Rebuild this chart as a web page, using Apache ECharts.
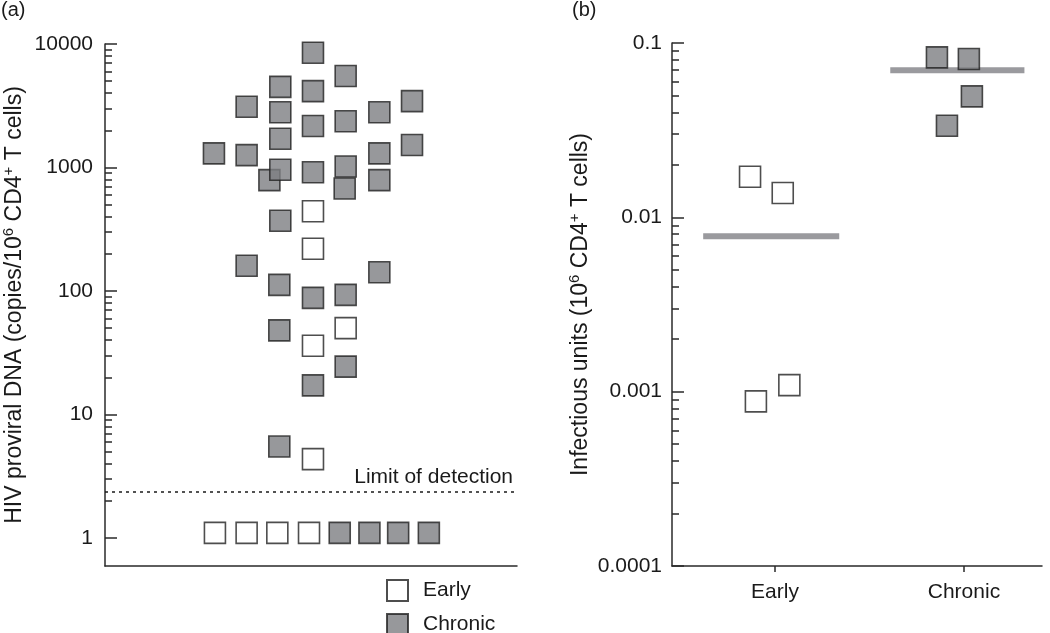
<!DOCTYPE html>
<html>
<head>
<meta charset="utf-8">
<script src="https://cdn.jsdelivr.net/npm/echarts@6/dist/echarts.min.js"></script>
<style>html,body{margin:0;padding:0;background:#fff;}#c{width:1050px;height:633px;}</style>
</head>
<body>
<div id="c"></div>
<script>
// ---------- Panel (a): HIV proviral DNA, strip positions [x, value] ----------
const earlyDNA = [[210, 442], [210, 220], [243, 50], [210, 36], [210, 4.35],
                  [111, 1.1], [143, 1.1], [174, 1.1], [206, 1.1]];
const chronicDNA = [[210, 8500], [243, 5500], [177, 4500], [210, 4150], [310, 3450],
                    [143, 3100], [177, 2800], [277, 2800], [243, 2370], [210, 2170],
                    [177, 1710], [310, 1520], [110, 1300], [143, 1260], [277, 1300],
                    [243, 1020], [166, 790], [177, 960], [210, 915], [277, 790],
                    [242, 675], [177, 370], [143, 160], [277, 142], [176, 112],
                    [210, 88], [243, 93], [176, 48], [243, 24.4], [210, 17.2],
                    [176, 5.5], [237, 1.1], [267, 1.1], [296, 1.1], [327, 1.1]];
const detectionLimit = 2.37;
const dnaTicks = [1, 10, 100, 1000, 10000];

// ---------- Panel (b): infectious units ----------
const groups = ['Early', 'Chronic'];
const earlyIU = [[0.868, 0.0171], [1.041, 0.0138], [0.899, 0.00088], [1.076, 0.00109]];
const chronicIU = [[1.857, 0.0827], [2.026, 0.0809], [2.042, 0.0494], [1.910, 0.0335]];
const groupMeans = [0.0078, 0.0697];
const iuTicks = [0.0001, 0.001, 0.01, 0.1];

const FONT = 'Liberation Sans, Arial, Helvetica, sans-serif';
const FILL = '#7d7e82', EDGE = '#222222', AX = '#2a2a2a', TXT = '#1a1a1a';

function minorLogs(lo, hi) {
  const out = [];
  for (let d = Math.floor(Math.log10(lo)); d < Math.ceil(Math.log10(hi)); d++) {
    for (let k = 2; k <= 9; k++) {
      const v = k * Math.pow(10, d);
      if (v >= lo && v <= hi) out.push(Math.log10(v));
    }
  }
  return out;
}
function powLabel(v) {
  const l = Math.log10(v);
  if (Math.abs(l - Math.round(l)) > 1e-6) return '';
  return String(Number(Math.pow(10, Math.round(l)).toPrecision(1)));
}

const aMin = 0.593, aMax = dnaTicks[dnaTicks.length - 1];
const bMin = iuTicks[0], bMax = iuTicks[iuTicks.length - 1];

const richTitle = {
  n: { fontSize: 23, fontFamily: FONT, color: TXT, lineHeight: 28 },
  s: { fontSize: 15, fontFamily: FONT, color: TXT, verticalAlign: 'top', lineHeight: 15 }
};

const sq = (fill) => ({ color: fill, borderColor: EDGE, borderWidth: 1.6 });

const option = {
  animation: false,
  backgroundColor: '#ffffff',
  textStyle: { fontFamily: FONT },
  title: [
    { text: '(a)', left: 1, top: 0, padding: 0, textStyle: { fontSize: 20, fontWeight: 'normal', color: TXT, fontFamily: FONT } },
    { text: '(b)', left: 572, top: 0, padding: 0, textStyle: { fontSize: 20, fontWeight: 'normal', color: TXT, fontFamily: FONT } }
  ],
  legend: {
    orient: 'vertical', left: 386, top: 579, height: 80, padding: 0, itemWidth: 21, itemHeight: 21, itemGap: 11,
    icon: 'rect',
    data: ['Early', 'Chronic'],
    textStyle: { fontSize: 21, lineHeight: 21, color: TXT, fontFamily: FONT, padding: [0, 0, 0, 10] }
  },
  grid: [
    { left: 101, right: 533, top: 44, bottom: 67 },
    { left: 672, right: 8, top: 43, bottom: 67 }
  ],
  xAxis: [
    { type: 'value', gridIndex: 0, min: 0, max: 416,
      axisLine: { onZero: false, lineStyle: { color: AX, width: 1.5 } },
      axisTick: { show: false }, axisLabel: { show: false }, splitLine: { show: false } },
    { type: 'value', gridIndex: 1, min: 0.455, max: 2.413,
      axisLine: { onZero: false, lineStyle: { color: AX, width: 1.5 } },
      axisTick: { show: true, customValues: [1, 2], length: 6, lineStyle: { color: AX, width: 1.5 } },
      axisLabel: { customValues: [1, 2], margin: 16, fontSize: 21, color: TXT, fontFamily: FONT,
                   formatter: (v) => groups[Math.round(v) - 1] },
      splitLine: { show: false } }
  ],
  yAxis: [
    { type: 'log', gridIndex: 0, min: aMin, max: aMax, logBase: 10, position: 'left',
      axisLine: { show: true, lineStyle: { color: AX, width: 1.5 } },
      axisTick: { show: true, inside: true, length: 12, lineStyle: { color: AX, width: 1.5 } },
      axisLabel: { margin: 12, fontSize: 21, color: TXT, fontFamily: FONT, formatter: powLabel, showMinLabel: false },
      splitLine: { show: false },
      name: '{n|HIV proviral DNA (copies/10}{s|6}{n| CD4}{s|+}{n| T cells)}',
      nameLocation: 'middle', nameGap: 76, nameTextStyle: { rich: richTitle } },
    { type: 'value', gridIndex: 0, min: Math.log10(aMin), max: Math.log10(aMax), position: 'left', offset: 0,
      axisLine: { show: false },
      axisTick: { show: true, inside: true, length: 7, customValues: minorLogs(dnaTicks[0], aMax), lineStyle: { color: AX, width: 1.5 } },
      axisLabel: { show: false }, splitLine: { show: false } },
    { type: 'log', gridIndex: 1, min: bMin, max: bMax, logBase: 10, position: 'left',
      axisLine: { show: true, lineStyle: { color: AX, width: 1.5 } },
      axisTick: { show: true, inside: true, length: 12, lineStyle: { color: AX, width: 1.5 } },
      axisLabel: { margin: 10, fontSize: 21, color: TXT, fontFamily: FONT, formatter: powLabel },
      splitLine: { show: false },
      name: '{n|Infectious units (10}{s|6}{n| CD4}{s|+}{n| T cells)}',
      nameLocation: 'middle', nameGap: 77, nameTextStyle: { rich: richTitle } },
    { type: 'value', gridIndex: 1, min: Math.log10(bMin), max: Math.log10(bMax), position: 'left', offset: 0,
      axisLine: { show: false },
      axisTick: { show: true, inside: true, length: 7, customValues: minorLogs(bMin, bMax), lineStyle: { color: AX, width: 1.5 } },
      axisLabel: { show: false }, splitLine: { show: false } }
  ],
  series: [
    { name: 'Chronic', type: 'scatter', xAxisIndex: 0, yAxisIndex: 0, symbol: 'rect', symbolSize: 21,
      itemStyle: sq(FILL), data: chronicDNA, z: 3,
      markLine: { silent: true, symbol: 'none',
        lineStyle: { type: [3, 4], color: TXT, width: 1.5 },
        label: { position: 'insideEndTop', formatter: 'Limit of detection', fontSize: 21, color: TXT, fontFamily: FONT, distance: [4, 4] },
        data: [{ yAxis: detectionLimit }] } },
    { name: 'Early', type: 'scatter', xAxisIndex: 0, yAxisIndex: 0, symbol: 'rect', symbolSize: 21,
      itemStyle: sq('#ffffff'), data: earlyDNA, z: 3 },
    { name: 'meanEarly', type: 'line', xAxisIndex: 1, yAxisIndex: 2, symbol: 'none', silent: true, z: 1,
      lineStyle: { color: '#9a9a9e', width: 6, cap: 'butt' },
      data: [[1 - 0.38, groupMeans[0]], [1 + 0.34, groupMeans[0]]] },
    { name: 'meanChronic', type: 'line', xAxisIndex: 1, yAxisIndex: 2, symbol: 'none', silent: true, z: 1,
      lineStyle: { color: '#9a9a9e', width: 6, cap: 'butt' },
      data: [[2 - 0.39, groupMeans[1]], [2 + 0.32, groupMeans[1]]] },
    { name: 'Early', type: 'scatter', xAxisIndex: 1, yAxisIndex: 2, symbol: 'rect', symbolSize: 21,
      itemStyle: sq('#ffffff'), data: earlyIU, z: 3 },
    { name: 'Chronic', type: 'scatter', xAxisIndex: 1, yAxisIndex: 2, symbol: 'rect', symbolSize: 21,
      itemStyle: sq(FILL), data: chronicIU, z: 3 }
  ]
};

const chart = echarts.init(document.getElementById('c'), null, { renderer: 'canvas' });
chart.setOption(option);
</script>
</body>
</html>
